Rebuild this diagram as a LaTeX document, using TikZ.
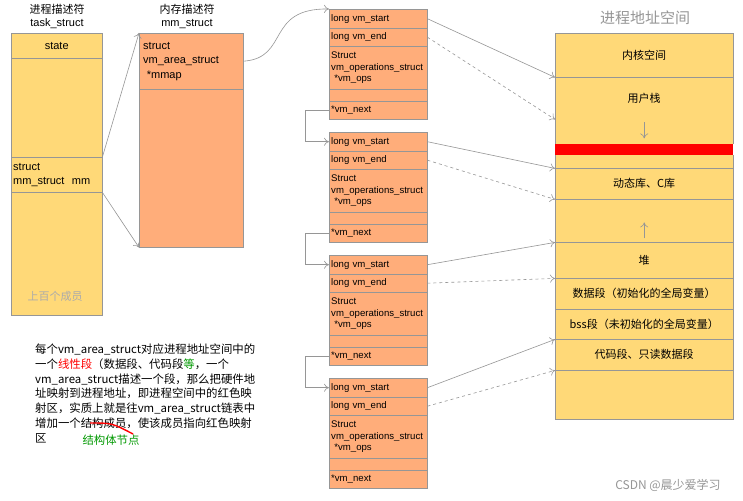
\documentclass[tikz,border=0pt]{standalone}
\usepackage{fontspec}
\setmainfont{Noto Sans CJK SC}
\newfontfamily\lat{Liberation Sans}
\usetikzlibrary{positioning,arrows.meta}
\definecolor{ylw}{RGB}{255,217,120}
\definecolor{org}{RGB}{255,173,122}
\definecolor{lgray}{RGB}{150,150,150}
\tikzset{>={To[length=5pt,width=8pt]}}
\tikzset{
  cell/.style={rectangle, draw=lgray, anchor=north west, inner xsep=2pt, inner ysep=0pt, align=left},
  ycell/.style={cell, fill=ylw},
  ocell/.style={cell, fill=org},
  vmcell/.style={ocell, minimum width=98pt, text width=94pt, font=\lat\fontsize{9.6}{11.5}\selectfont},
  seg/.style={rectangle, draw=lgray, fill=ylw, anchor=north west, minimum width=178pt, inner sep=0pt, align=center, font=\fontsize{11}{12}\selectfont},
  link/.style={->, lgray, semithick},
  dlink/.style={->, lgray, semithick, dashed}
}
\begin{document}
\begin{tikzpicture}[x=1pt,y=-1pt]
  \useasboundingbox[fill=white] (0,0) rectangle (743,500);
  % task_struct
  \node[font=\fontsize{11}{13}\selectfont, align=center] (tstitle) at (57,16) {进程描述符\\{\lat task\_struct}};
  \node[ycell, minimum width=91pt, minimum height=25pt, align=center, font=\lat\fontsize{11}{13}\selectfont] (ts1) at (11,33) {state};
  \node[ycell, minimum width=91pt, minimum height=99pt] (ts2) at (11,58) {};
  \node[ycell, minimum width=91pt, minimum height=35pt, text width=87pt, font=\lat\fontsize{11}{14}\selectfont] (ts3) at (11,157) {struct\\mm\_struct\ \ mm};
  \node[ycell, minimum width=91pt, minimum height=123pt] (ts4) at (11,192) {};
  \node[lgray!80, font=\fontsize{11}{12}\selectfont] (tsmore) at (55,296) {上百个成员};
  % mm_struct
  \node[font=\fontsize{11}{13}\selectfont, align=center] (mmtitle) at (187,16) {内存描述符\\{\lat mm\_struct}};
  \node[ocell, minimum width=104pt, minimum height=56pt, text width=96pt, inner xsep=4pt, font=\lat\fontsize{11}{14.5}\selectfont] (m1) at (139,33) {struct\\vm\_area\_struct\\{}\ *mmap};
  \node[ocell, minimum width=104pt, minimum height=158pt] (m2) at (139,89) {};
  \draw[link] (ts3.north east) -- (m1.north west);
  \draw[link] (ts3.south east) -- (m2.south west);
  % vm_area_struct list
  \foreach \i/\t in {1/9,2/132,3/255,4/378}{
    \node[vmcell, minimum height=19pt] (s\i) at (329,\t) {long vm\_start};
    \node[vmcell, minimum height=18pt] (e\i) at (329,\t+19) {long vm\_end};
    \node[vmcell, minimum height=43pt] (o\i) at (329,\t+37) {Struct\\vm\_operations\_struct\\{}\ *vm\_ops};
    \node[vmcell, minimum height=12pt] (b\i) at (329,\t+80) {};
    \node[vmcell, minimum height=18pt] (n\i) at (329,\t+92) {*vm\_next};
  }
  \draw[link] (m1.east) .. controls (290,58) and (265,8) .. (s1.north west);
  \foreach \i/\j in {1/2,2/3,3/4}
    \draw[link] (n\i.west) -- ++(-24,0) |- (s\j.west);
  % address space
  \node[lgray, font=\fontsize{15}{17}\selectfont] (astitle) at (645,18) {进程地址空间};
  \node[seg, minimum height=44pt] (k) at (555,33) {内核空间};
  \node[seg, minimum height=42pt] (u) at (555,77) {用户栈};
  \node[seg, minimum height=25pt, draw=none] (g1) at (555,119) {};
  \node[rectangle, fill=red, anchor=north west, minimum width=178pt, minimum height=11pt, inner sep=0pt] (rb) at (555,144) {};
  \node[seg, minimum height=13pt, draw=none] (g2) at (555,155) {};
  \node[seg, minimum height=31pt] (d) at (555,168) {动态库、C库};
  \node[seg, minimum height=43pt] (g3) at (555,199) {};
  \node[seg, minimum height=36pt] (h) at (555,242) {堆};
  \node[seg, minimum height=31pt] (ds) at (555,278) {数据段（初始化的全局变量）};
  \node[seg, minimum height=30pt] (bss) at (555,309) {bss段（未初始化的全局变量）};
  \node[seg, minimum height=31pt] (c) at (555,339) {代码段、只读数据段};
  \node[seg, minimum height=49pt] (r) at (555,370) {};
  \draw[lgray] (g1.north west) -- (g1.south west) (g1.north east) -- (g1.south east)
               (g2.north west) -- (g2.south west) (g2.north east) -- (g2.south east);
  \draw[link] ([yshift=-3pt]g1.north) -- ([yshift=6pt]g1.south);
  \draw[link] ([yshift=4pt]g3.south) -- ([yshift=20pt]g3.south);
  \draw[link] (s1.east) -- (k.south west);
  \draw[dlink] (e1.east) -- (u.south west);
  \draw[link] (s2.east) -- (g2.south west);
  \draw[dlink] (e2.east) -- (d.south west);
  \draw[link] (s3.east) -- (g3.south west);
  \draw[dlink] (e3.east) -- (h.south west);
  \draw[link] (s4.east) -- (bss.south west);
  \draw[dlink] (e4.east) -- (c.south west);
  % note
  \node[anchor=north west, align=left, inner sep=0pt, font=\fontsize{11.4}{14.7}\selectfont] (note) at (35,344)
    {每个vm\_area\_struct对应进程地址空间中的\\
     一个\textcolor{red}{线性段}（数据段、代码段\textcolor{green!60!black}{等}，一个\\
     vm\_area\_struct描述一个段，那么把硬件地\\
     址映射到进程地址，即进程空间中的红色映\\
     射区，实质上就是往vm\_area\_struct链表中\\
     增加一个结构成员，使该成员指向红色映射\\
     区};
  \draw[red, line width=1.4pt] (90,423) .. controls (112,423) .. (133,434);
  \node[green!60!black, font=\fontsize{11.4}{13}\selectfont] (node) at (111,440) {结构体节点};
  \node[lgray, font=\fontsize{12}{13}\selectfont] (mark) at (668,485) {CSDN @晨少爱学习};
\end{tikzpicture}
\end{document}
